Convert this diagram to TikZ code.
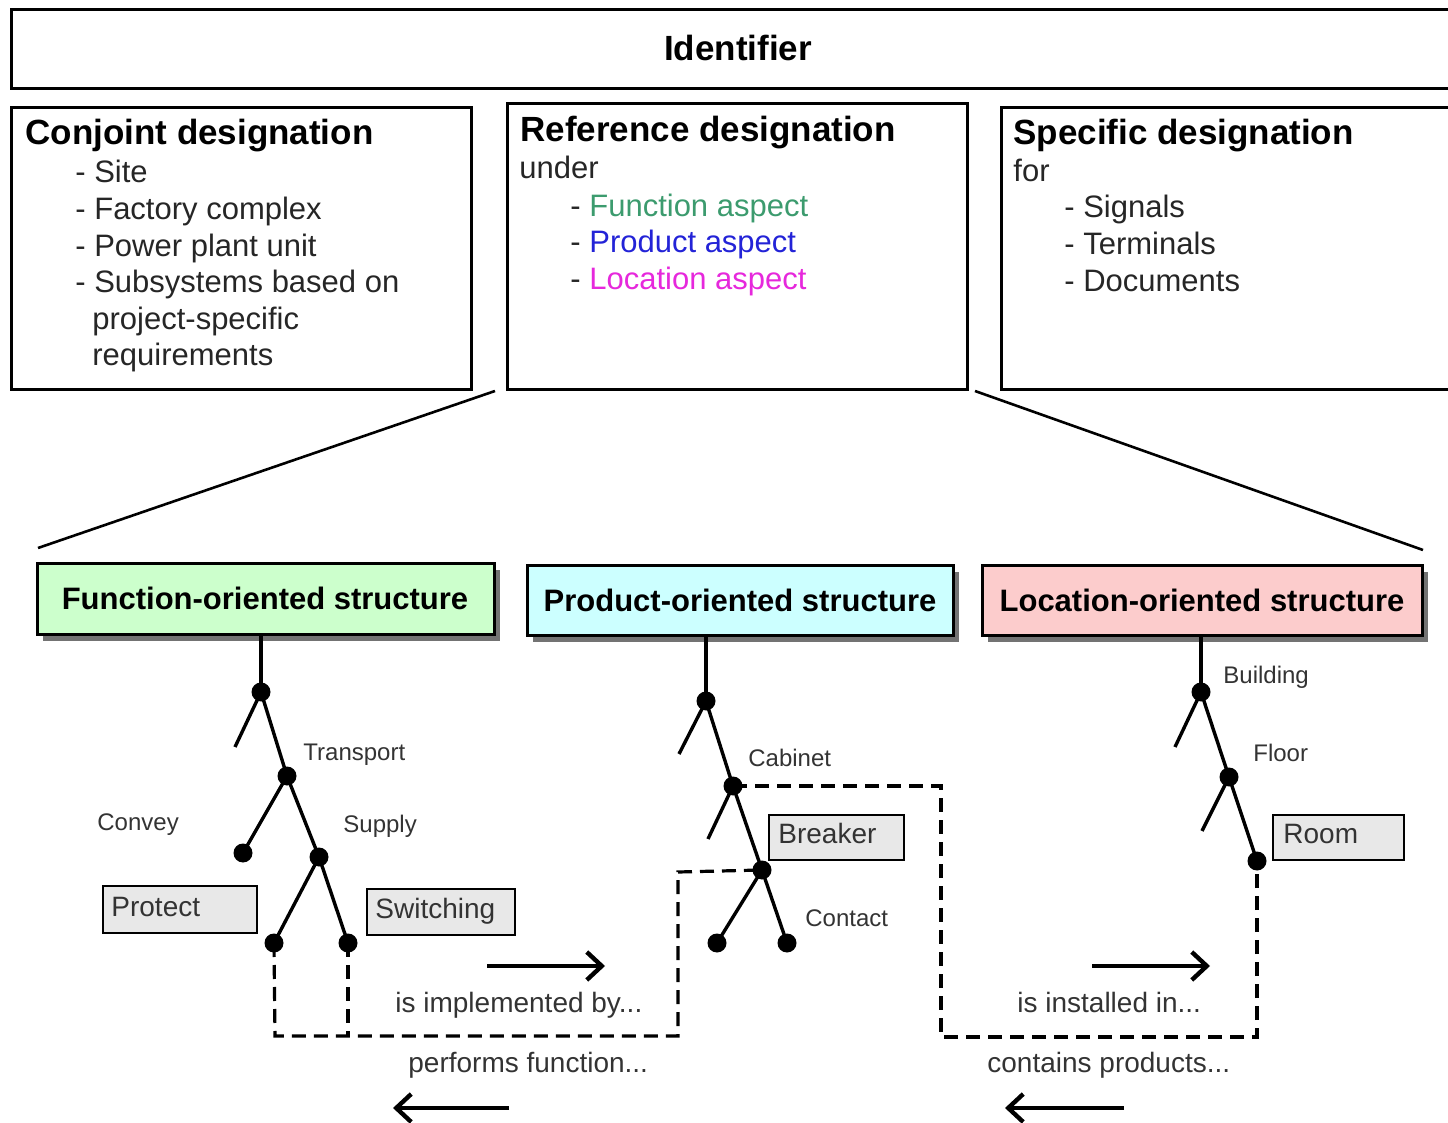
\documentclass[tikz,border=0pt]{standalone}
\usepackage{fontspec}
\setmainfont{Liberation Sans}
\usetikzlibrary{arrows.meta,shadows,fit}

\definecolor{fgreen}{RGB}{204,255,204}
\definecolor{pcyan}{RGB}{204,255,255}
\definecolor{lpink}{RGB}{252,204,204}
\definecolor{aspfun}{RGB}{60,155,110}
\definecolor{aspprod}{RGB}{35,35,215}
\definecolor{asploc}{RGB}{230,40,220}

\tikzset{
  frame/.style={draw=black, line width=1.5pt, inner sep=0pt},
  ttl/.style={anchor=base west, inner sep=0pt, font=\fontsize{17.5}{20}\selectfont\bfseries},
  txt/.style={anchor=base west, inner sep=0pt, font=\fontsize{15.5}{18}\selectfont, text=black!85},
  sbox/.style={draw, line width=1.5pt, inner sep=0pt,
    drop shadow={shadow xshift=3pt, shadow yshift=-3pt, fill=black!55, opacity=1}},
  stitle/.style={font=\fontsize{15.5}{18}\selectfont\bfseries, inner sep=0pt},
  lbox/.style={draw, line width=1.3pt, fill=black!9, inner sep=0pt},
  ltxt/.style={anchor=base west, inner sep=0pt, font=\fontsize{14}{16}\selectfont, text=black!80},
  small/.style={anchor=base west, inner sep=0pt, font=\fontsize{12}{14}\selectfont, text=black!80},
  dot/.style={circle, fill=black, inner sep=0pt, minimum size=9.5pt},
  branch/.style={line width=1.7pt},
  link/.style={line width=1.6pt, dash pattern=on 7pt off 4pt},
  flow/.style={line width=2.2pt, -{Straight Barb[length=7.5pt, width=14pt]}},
  fan/.style={line width=1.3pt},
}

\begin{document}
\begin{tikzpicture}[x=0.5pt, y=-0.5pt]
\useasboundingbox (0,0) rectangle (1448,1123);

% ---- identifier band ----
\node[frame, fit={(11,10) (1470,89)}] (ident) {};
\node[inner sep=0pt, font=\fontsize{17.5}{20}\selectfont\bfseries] (identtxt) at (738,48) {Identifier};

% ---- conjoint designation ----
\node[frame, fit={(11,108) (471,390)}] (conj) {};
\node[ttl] (conjt) at (25,145) {Conjoint designation};
\node[txt] (conj1) at (75,183) {- Site};
\node[txt] (conj2) at (75,220) {- Factory complex};
\node[txt] (conj3) at (75,257) {- Power plant unit};
\node[txt] (conj4) at (75,293) {- Subsystems based on};
\node[txt] (conj5) at (92,330) {project-specific};
\node[txt] (conj6) at (92,366) {requirements};

% ---- reference designation ----
\node[frame, fit={(507,104) (967,390)}] (refd) {};
\node[ttl] (refdt) at (520,142) {Reference designation};
\node[txt] (refd0) at (519,179) {under};
\node[txt] (refd1) at (570,217) {- \textcolor{aspfun}{Function aspect}};
\node[txt] (refd2) at (570,253) {- \textcolor{aspprod}{Product aspect}};
\node[txt] (refd3) at (570,290) {- \textcolor{asploc}{Location aspect}};

% ---- specific designation ----
\node[frame, fit={(1001,108) (1470,390)}] (spec) {};
\node[ttl] (spect) at (1013,145) {Specific designation};
\node[txt] (spec0) at (1013,182) {for};
\node[txt] (spec1) at (1064,218) {- Signals};
\node[txt] (spec2) at (1064,255) {- Terminals};
\node[txt] (spec3) at (1064,292) {- Documents};

% ---- fan from the reference designation to the structures ----
\coordinate (fanLa) at (495,391);
\coordinate (fanLb) at (38,548);
\coordinate (fanRa) at (975,391);
\coordinate (fanRb) at (1423,550);
\draw[fan] (fanLa) -- (fanLb);
\draw[fan] (fanRa) -- (fanRb);

% ---- structure headers ----
\node[sbox, fill=fgreen, fit={(37,564) (494,635)}] (fos) {};
\node[stitle] (fost) at (265,598) {Function-oriented structure};
\node[sbox, fill=pcyan, fit={(527,566) (953,636)}] (pos) {};
\node[stitle] (post) at (740,600) {Product-oriented structure};
\node[sbox, fill=lpink, fit={(982,566) (1422,636)}] (los) {};
\node[stitle] (lost) at (1202,600) {Location-oriented structure};

% ---- function tree ----
\coordinate (f0) at (261,636);
\node[dot] (f1) at (261,692) {};
\coordinate (f1s) at (235,747);
\node[dot] (f2) at (287,776) {};
\node[dot] (f2a) at (243,853) {};
\node[dot] (f3) at (319,857) {};
\node[dot] (f3a) at (274,943) {};
\node[dot] (f3b) at (348,943) {};
\draw[branch] (f0) -- (f1.center);
\draw[branch] (f1.center) -- (f1s);
\draw[branch] (f1.center) -- (f2.center);
\draw[branch] (f2.center) -- (f2a.center);
\draw[branch] (f2.center) -- (f3.center);
\draw[branch] (f3.center) -- (f3a.center);
\draw[branch] (f3.center) -- (f3b.center);
\node[small] (lTransport) at (303,760) {Transport};
\node[small] (lConvey) at (97,830) {Convey};
\node[small] (lSupply) at (343,832) {Supply};
\node[lbox, fit={(103,886) (257,933)}] (protect) {};
\node[ltxt] (protectt) at (111,916) {Protect};
\node[lbox, fit={(367,889) (515,935)}] (switching) {};
\node[ltxt] (switchingt) at (375,918) {Switching};

% ---- product tree ----
\coordinate (p0) at (706,637);
\node[dot] (p1) at (706,701) {};
\coordinate (p1s) at (679,754);
\node[dot] (p2) at (733,786) {};
\coordinate (p2s) at (708,839);
\node[dot] (p3) at (762,870) {};
\node[dot] (p3a) at (717,943) {};
\node[dot] (p3b) at (787,943) {};
\draw[branch] (p0) -- (p1.center);
\draw[branch] (p1.center) -- (p1s);
\draw[branch] (p1.center) -- (p2.center);
\draw[branch] (p2.center) -- (p2s);
\draw[branch] (p2.center) -- (p3.center);
\draw[branch] (p3.center) -- (p3a.center);
\draw[branch] (p3.center) -- (p3b.center);
\node[small] (lCabinet) at (748,766) {Cabinet};
\node[small] (lContact) at (805,926) {Contact};
\node[lbox, fit={(769,815) (904,860)}] (breaker) {};
\node[ltxt] (breakert) at (778,843) {Breaker};

% ---- location tree ----
\coordinate (l0) at (1201,637);
\node[dot] (l1) at (1201,692) {};
\coordinate (l1s) at (1175,747);
\node[dot] (l2) at (1229,777) {};
\coordinate (l2s) at (1202,831);
\node[dot] (l3) at (1257,861) {};
\draw[branch] (l0) -- (l1.center);
\draw[branch] (l1.center) -- (l1s);
\draw[branch] (l1.center) -- (l2.center);
\draw[branch] (l2.center) -- (l2s);
\draw[branch] (l2.center) -- (l3.center);
\node[small] (lBuilding) at (1223,683) {Building};
\node[small] (lFloor) at (1253,762) {Floor};
\node[lbox, fit={(1273,815) (1404,860)}] (room) {};
\node[ltxt] (roomt) at (1283,843) {Room};

% ---- dashed links between the structures ----
\draw[link] (f3a.center) -- (275,1036) -- (678,1036) -- (678,872) -- (p3.center);
\draw[link] (f3b.center) -- (348,1036);
\draw[link] (p2.center) -- (941,786) -- (941,1037) -- (1257,1037) -- (l3.center);

% ---- relation arrows and their labels ----
\coordinate (a1s) at (487,966);
\coordinate (a1e) at (605,966);
\coordinate (a2s) at (509,1108);
\coordinate (a2e) at (393,1108);
\coordinate (a3s) at (1092,966);
\coordinate (a3e) at (1210,966);
\coordinate (a4s) at (1124,1108);
\coordinate (a4e) at (1005,1108);
\draw[flow] (a1s) -- (a1e);
\draw[flow] (a2s) -- (a2e);
\draw[flow] (a3s) -- (a3e);
\draw[flow] (a4s) -- (a4e);
\node[ltxt] (tImpl) at (395,1012) {is implemented by...};
\node[ltxt] (tPerf) at (408,1072) {performs function...};
\node[ltxt] (tInst) at (1017,1012) {is installed in...};
\node[ltxt] (tCont) at (987,1072) {contains products...};
\end{tikzpicture}
\end{document}
